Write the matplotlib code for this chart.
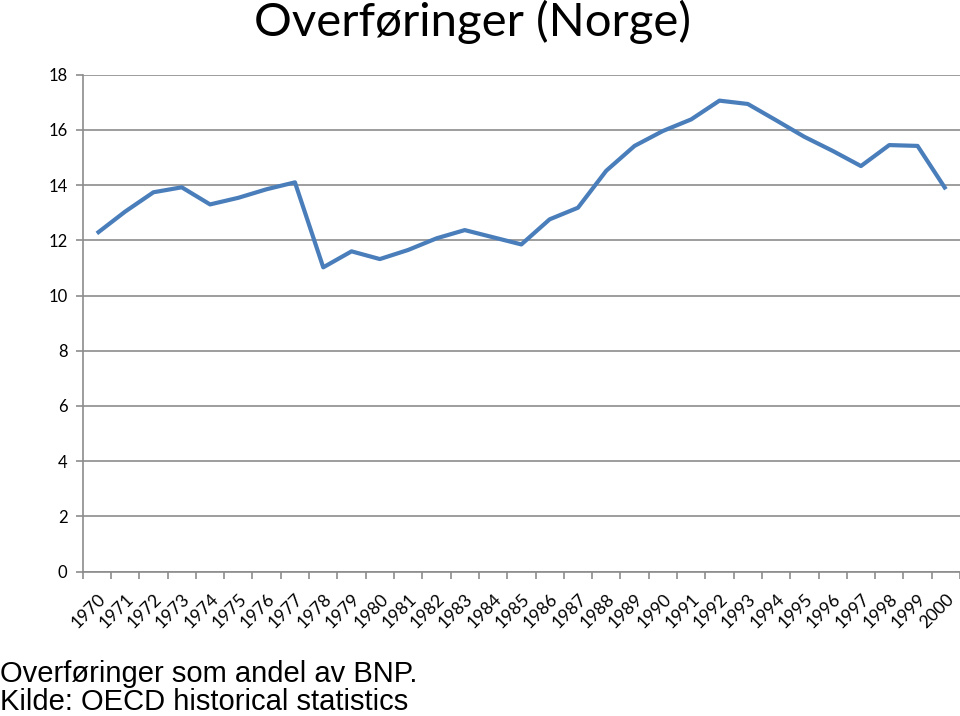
import matplotlib
matplotlib.use("Agg")
import matplotlib.pyplot as plt
import matplotlib.transforms as mtransforms

years = list(range(1970, 2001))
values = [12.25, 13.04, 13.74, 13.92, 13.30, 13.54, 13.85, 14.10, 11.02, 11.60,
          11.32, 11.65, 12.07, 12.37, 12.11, 11.85, 12.76, 13.18, 14.52, 15.42,
          15.96, 16.38, 17.06, 16.94, 16.35, 15.75, 15.24, 14.69, 15.45, 15.42,
          13.85]
yticks = [0, 2, 4, 6, 8, 10, 12, 14, 16, 18]
title = "Overføringer (Norge)"
caption = "Overføringer som andel av BNP.\nKilde: OECD historical statistics"

W, H = 960, 716
fig = plt.figure(figsize=(W / 100, H / 100), dpi=100)
ax = fig.add_axes([82.7 / W, (H - 571.5) / H, (W - 82.7) / W, (571.5 - 74.7) / H])

x = list(range(len(years)))
ax.plot(x, values, color="#4A7EBB", linewidth=3.0, solid_capstyle="butt", zorder=3)

ax.set_xlim(-0.5, len(years) - 0.5)
ax.set_ylim(0, 18)
ax.set_yticks(yticks)
ax.set_yticklabels([str(v) for v in yticks], fontsize=12, family="Lato")
ax.yaxis.grid(True, color="#8C8C8C", linewidth=1.2)
ax.set_axisbelow(True)

ax.set_xticks([i - 0.5 for i in range(len(years) + 1)], minor=False)
ax.set_xticklabels([])
ax.set_xticks(x, minor=True)
ax.set_xticklabels([str(y) for y in years], minor=True, rotation=45, ha="right",
                   rotation_mode="anchor", fontsize=12.7, family="Lato")
offset = mtransforms.ScaledTranslation(5 / 100, 0, fig.dpi_scale_trans)
for lbl in ax.get_xticklabels(minor=True):
    lbl.set_transform(lbl.get_transform() + offset)
ax.tick_params(axis="x", which="major", length=5, color="#8C8C8C", width=1.2)
ax.tick_params(axis="x", which="minor", length=0, pad=14)
ax.tick_params(axis="y", length=5, color="#8C8C8C", width=1.2, pad=6)

for s in ["top", "right"]:
    ax.spines[s].set_visible(False)
for s in ["left", "bottom"]:
    ax.spines[s].set_color("#8C8C8C")
    ax.spines[s].set_linewidth(1.2)

fig.text(472 / W, 1 - 22 / H, title, ha="center", va="center", fontsize=34, family="Lato")
fig.text(0.0, 0.0, caption, ha="left", va="bottom", fontsize=21,
         family="Liberation Sans", linespacing=1.0)

fig.savefig("out.png", dpi=100)
